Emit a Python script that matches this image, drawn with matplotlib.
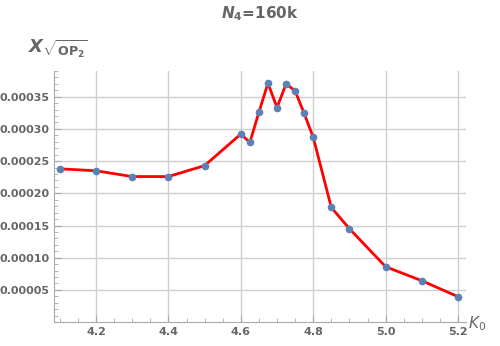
import numpy as np
import matplotlib.pyplot as plt
from matplotlib.ticker import MultipleLocator, FixedLocator

plt.rcParams['mathtext.fontset'] = 'custom'
plt.rcParams['mathtext.it'] = 'DejaVu Sans:bold:italic'
plt.rcParams['mathtext.rm'] = 'DejaVu Sans:bold'
plt.rcParams['mathtext.bf'] = 'DejaVu Sans:bold'
plt.rcParams['mathtext.sf'] = 'DejaVu Sans:italic'
plt.rcParams['mathtext.cal'] = 'DejaVu Sans'

# данные
k0 = [4.1, 4.2, 4.3, 4.4, 4.5, 4.6, 4.625, 4.65, 4.675, 4.7, 4.725,
      4.75, 4.775, 4.8, 4.85, 4.9, 5.0, 5.1, 5.2]
chi = [0.000238, 0.000235, 0.000226, 0.000226, 0.000243, 0.000292, 0.000279,
       0.000326, 0.000371, 0.000333, 0.000370, 0.000359, 0.000324, 0.000287,
       0.000178, 0.000145, 0.0000860, 0.0000643, 0.0000395]
xticks = [4.2, 4.4, 4.6, 4.8, 5.0, 5.2]
yticks = [0.00005, 0.00010, 0.00015, 0.00020, 0.00025, 0.00030, 0.00035]

gray = '#666666'

fig = plt.figure(figsize=(5, 3.46), dpi=100)
ax = fig.add_axes([0.108, 0.069, 0.824, 0.726])

ax.plot(k0, chi, color='red', lw=2, zorder=3)
ax.plot(k0, chi, 'o', color='#5E81B5', ms=4.5, zorder=4)

ax.set_xlim(4.084, 5.222)
ax.set_ylim(0, 0.00039)

ax.xaxis.set_major_locator(FixedLocator(xticks))
ax.yaxis.set_major_locator(FixedLocator(yticks))
ax.xaxis.set_minor_locator(MultipleLocator(0.05))
ax.yaxis.set_minor_locator(MultipleLocator(0.00001))
ax.set_xticklabels([f'{t:.1f}' for t in xticks])
ax.set_yticklabels([f'{t:.5f}' for t in yticks])

ax.grid(True, which='major', color='#cfcfcf', lw=1)
for s in ['top', 'right']:
    ax.spines[s].set_visible(False)
for s in ['left', 'bottom']:
    ax.spines[s].set_color('#aaaaaa')

ax.tick_params(which='both', direction='in', colors='#aaaaaa', labelcolor=gray)
ax.tick_params(which='major', length=5, labelsize=8)
ax.tick_params(which='minor', length=3)
for lab in ax.get_xticklabels() + ax.get_yticklabels():
    lab.set_fontweight('bold')

fig.text(0.52, 0.96, r'$N_4$=160k', ha='center', va='center',
         fontsize=11, color=gray, fontweight='bold')
fig.text(0.055, 0.86, r'$X_{\sqrt{\mathrm{OP}_2}}$', ha='left', va='center',
         fontsize=13, color=gray)
fig.text(0.935, 0.065, r'$\mathsf{K}_{\mathcal{0}}$', ha='left', va='center',
         fontsize=11, color=gray)

fig.savefig('out.png', dpi=100)
